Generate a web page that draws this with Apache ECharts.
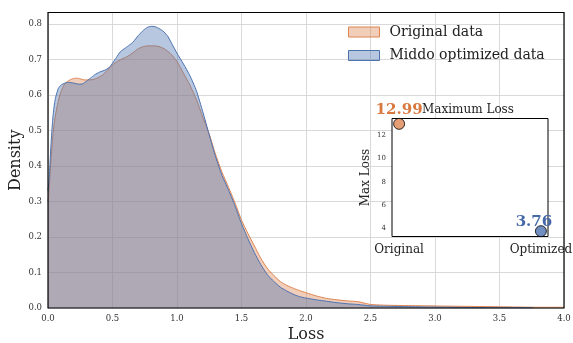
<!DOCTYPE html>
<html>
<head>
<meta charset="utf-8">
<script src="https://cdn.jsdelivr.net/npm/echarts@6/dist/echarts.min.js"></script>
<style>
html,body{margin:0;padding:0;background:#fff;}
#c{width:573px;height:343px;}
</style>
</head>
<body>
<div id="c"></div>
<script>
// ---- data ----
const origX = [0,0.01,0.02,0.03,0.04,0.05,0.06,0.07,0.09,0.11,0.13,0.16,0.19,0.22,0.25,0.28,0.31,0.35,0.38,0.42,0.46,0.50,0.54,0.58,0.62,0.66,0.70,0.74,0.78,0.82,0.86,0.90,0.95,1.00,1.05,1.10,1.15,1.20,1.25,1.30,1.35,1.40,1.45,1.50,1.55,1.60,1.65,1.70,1.75,1.80,1.85,1.90,1.95,2.00,2.08,2.16,2.24,2.32,2.40,2.45,2.50,2.60,2.75,2.95,3.15,3.40,3.60,3.80,4.00];
const origY = [0.30,0.34,0.40,0.45,0.495,0.525,0.548,0.567,0.598,0.618,0.632,0.641,0.646,0.648,0.646,0.643,0.643,0.644,0.648,0.656,0.670,0.685,0.696,0.703,0.710,0.720,0.731,0.737,0.739,0.739,0.737,0.731,0.717,0.695,0.662,0.628,0.588,0.538,0.490,0.432,0.382,0.340,0.296,0.248,0.210,0.175,0.140,0.112,0.092,0.075,0.064,0.056,0.049,0.043,0.034,0.027,0.023,0.020,0.018,0.014,0.010,0.008,0.007,0.006,0.005,0.004,0.003,0.002,0.002];
const optX = [0,0.01,0.02,0.03,0.04,0.05,0.06,0.08,0.10,0.13,0.16,0.20,0.24,0.27,0.30,0.33,0.36,0.40,0.45,0.48,0.50,0.53,0.56,0.60,0.63,0.66,0.70,0.74,0.77,0.80,0.83,0.87,0.90,0.93,0.96,1.00,1.05,1.10,1.15,1.20,1.25,1.30,1.35,1.40,1.45,1.50,1.55,1.60,1.65,1.70,1.75,1.80,1.85,1.90,1.95,2.00,2.08,2.16,2.24,2.32,2.40,2.50,2.60,2.75,2.90,3.10,3.40,3.76];
const optY = [0.33,0.37,0.44,0.50,0.545,0.575,0.595,0.619,0.628,0.634,0.636,0.634,0.631,0.632,0.640,0.648,0.657,0.665,0.672,0.680,0.690,0.706,0.722,0.733,0.741,0.750,0.768,0.783,0.791,0.794,0.793,0.786,0.778,0.765,0.745,0.718,0.688,0.655,0.613,0.553,0.488,0.425,0.373,0.332,0.288,0.238,0.195,0.156,0.122,0.094,0.075,0.059,0.048,0.039,0.032,0.028,0.023,0.019,0.015,0.012,0.010,0.006,0.005,0.004,0.003,0.002,0.001,0.0005];
const seriesNames = ['Original data', 'Middo optimized data'];
const insetCats = ['Original', 'Optimized'];
const maxLoss = [12.99, 3.76];
const insetTicks = [4, 6, 8, 10, 12];

const ORANGE = '#dd8452', BLUE = '#4c72b0';
const FONT = '"DejaVu Serif", serif';
const pairs = (xs, ys) => xs.map((x, i) => [x, ys[i]]);

const chart = echarts.init(document.getElementById('c'), null, {renderer: 'canvas'});
chart.setOption({
  animation: false,
  backgroundColor: '#fff',
  textStyle: {fontFamily: FONT},
  title: {
    text: 'Maximum Loss', left: 468, top: 104, textAlign: 'center', padding: 0,
    textStyle: {fontFamily: FONT, fontSize: 12, fontWeight: 'normal', color: '#222'}
  },
  legend: {
    orient: 'vertical', left: 348, top: 25, padding: 0, itemWidth: 31, itemHeight: 10, itemGap: 9.5,
    icon: 'rect',
    textStyle: {fontFamily: FONT, fontSize: 14, color: '#222', padding: [0, 0, 0, 5]},
    data: [
      {name: seriesNames[0], itemStyle: {color: 'rgba(221,132,82,0.4)', borderColor: ORANGE, borderWidth: 1}},
      {name: seriesNames[1], itemStyle: {color: 'rgba(76,114,176,0.4)', borderColor: BLUE, borderWidth: 1}}
    ]
  },
  grid: [
    {left: 48, right: 9, top: 12.5, bottom: 35, outerBoundsMode: 'none', containLabel: false, show: true, backgroundColor: 'transparent', borderColor: '#000', borderWidth: 1.2, z: 10},
    {left: 392, top: 118.5, width: 156, height: 118, outerBoundsMode: 'none', containLabel: false, show: true, backgroundColor: '#fff', borderColor: '#000', borderWidth: 1, z: 3}
  ],
  xAxis: [
    {
      type: 'value', gridIndex: 0, min: 0, max: 4, interval: 0.5,
      name: 'Loss', nameLocation: 'middle', nameGap: 19, nameMoveOverlap: false,
      nameTextStyle: {fontFamily: FONT, fontSize: 16, color: '#222'},
      axisLine: {show: false}, axisTick: {show: false},
      axisLabel: {fontFamily: FONT, fontSize: 8.5, color: '#333', margin: 6, formatter: v => v.toFixed(1)},
      splitLine: {show: true, lineStyle: {color: '#d9d9d9', width: 1}}
    },
    {
      type: 'value', gridIndex: 1, min: -0.05, max: 1.05, z: 4,
      axisLine: {show: false}, axisTick: {show: false}, splitLine: {show: false},
      axisLabel: {customValues: [0, 1], fontFamily: FONT, fontSize: 12, color: '#222', margin: 7,
        formatter: v => insetCats[Math.round(v)] || ''}
    }
  ],
  yAxis: [
    {
      type: 'value', gridIndex: 0, min: 0, max: 0.833, interval: 0.1,
      name: 'Density', nameLocation: 'middle', nameGap: 24, nameMoveOverlap: false,
      nameTextStyle: {fontFamily: FONT, fontSize: 16, color: '#222'},
      axisLine: {show: false}, axisTick: {show: false},
      axisLabel: {fontFamily: FONT, fontSize: 8.5, color: '#333', margin: 6, showMaxLabel: false, formatter: v => v.toFixed(1)},
      splitLine: {show: true, lineStyle: {color: '#d9d9d9', width: 1}}
    },
    {
      type: 'value', gridIndex: 1, min: 3.3, max: 13.45, z: 4,
      name: 'Max Loss', nameLocation: 'middle', nameGap: 20, nameMoveOverlap: false,
      nameTextStyle: {fontFamily: FONT, fontSize: 12, color: '#222'},
      axisLine: {show: false}, axisTick: {show: false}, splitLine: {show: false},
      axisLabel: {customValues: insetTicks, fontFamily: FONT, fontSize: 7, color: '#333', margin: 6}
    }
  ],
  series: [
    {
      name: seriesNames[0], type: 'line', xAxisIndex: 0, yAxisIndex: 0,
      data: pairs(origX, origY), showSymbol: false, smooth: 0.2, color: ORANGE,
      lineStyle: {color: ORANGE, width: 1}, areaStyle: {color: ORANGE, opacity: 0.4}, z: 2
    },
    {
      name: seriesNames[1], type: 'line', xAxisIndex: 0, yAxisIndex: 0,
      data: pairs(optX, optY), showSymbol: false, smooth: 0.2, color: BLUE,
      lineStyle: {color: BLUE, width: 1}, areaStyle: {color: BLUE, opacity: 0.4}, z: 3
    },
    {
      type: 'scatter', xAxisIndex: 1, yAxisIndex: 1, z: 6, symbolSize: 11,
      data: [
        {value: [0, maxLoss[0]], itemStyle: {color: ORANGE, borderColor: '#000', borderWidth: 1},
          label: {color: '#d9783f', offset: [0, 0]}},
        {value: [1, maxLoss[1]], itemStyle: {color: BLUE, borderColor: '#000', borderWidth: 1},
          label: {color: '#4468a8', offset: [-7, 4]}}
      ],
      label: {show: true, position: 'top', distance: 0, fontFamily: FONT, fontSize: 15, fontWeight: 'bold',
        opacity: 1, textBorderWidth: 0, formatter: p => p.value[1].toFixed(2)}
    }
  ]
});
</script>
</body>
</html>
